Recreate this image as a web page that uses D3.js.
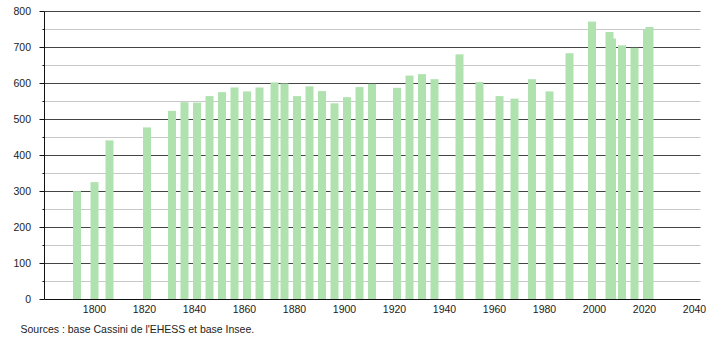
<!DOCTYPE html>
<html>
<head>
<meta charset="utf-8">
<script src="https://cdn.jsdelivr.net/npm/d3@7"></script>
<style>
  body { margin: 0; background: #fff; }
  text { font-family: "Liberation Sans", Arial, sans-serif; fill: #222; }
</style>
</head>
<body>
<div id="chart"></div>
<script>
// census years and population
const years = [1793, 1800, 1806, 1821, 1831, 1836, 1841, 1846, 1851, 1856,
  1861, 1866, 1872, 1876, 1881, 1886, 1891, 1896, 1901, 1906,
  1911, 1921, 1926, 1931, 1936, 1946, 1954, 1962, 1968, 1975,
  1982, 1990, 1999, 2006, 2007, 2011, 2016, 2021, 2022];
const population = [301, 326, 442, 478, 524, 548, 547, 565, 576, 589,
  578, 589, 603, 600, 565, 592, 579, 545, 562, 590,
  599, 588, 622, 626, 612, 681, 604, 565, 558, 612,
  578, 684, 772, 743, 725, 706, 699, 749, 757];

const xTicks = [1800, 1820, 1840, 1860, 1880, 1900, 1920, 1940, 1960, 1980, 2000, 2020, 2040];
const yTicks = [0, 100, 200, 300, 400, 500, 600, 700, 800];
const yMinorTicks = [50, 150, 250, 350, 450, 550, 650, 750];
const sourceText = "Sources : base Cassini de l'EHESS et base Insee.";

const width = 710, height = 340;
const barWidth = 8;

const svg = d3.select("#chart").append("svg")
  .attr("width", width)
  .attr("height", height);

const x = d3.scaleLinear().domain([1780, 2040]).range([44.5, 694.5]);
const y = d3.scaleLinear().domain([0, 800]).range([299.5, 11.5]);
const plotRight = 700.5;

// grid
svg.append("g").selectAll("line.minor")
  .data(yMinorTicks)
  .enter().append("line")
  .attr("x1", x.range()[0]).attr("x2", plotRight)
  .attr("y1", d => y(d)).attr("y2", d => y(d))
  .attr("stroke", "#c8c8c8");

svg.append("g").selectAll("line.major")
  .data(yTicks.filter(d => d > 0))
  .enter().append("line")
  .attr("x1", x.range()[0]).attr("x2", plotRight)
  .attr("y1", d => y(d)).attr("y2", d => y(d))
  .attr("stroke", "#444");

// bars
svg.append("g").selectAll("rect")
  .data(years)
  .enter().append("rect")
  .attr("x", d => x(d) - barWidth / 2)
  .attr("width", barWidth)
  .attr("y", (d, i) => y(population[i]))
  .attr("height", (d, i) => y(0) - y(population[i]))
  .attr("fill", "#afe2af");

// y axis
const yAxis = svg.append("g");
yAxis.append("line")
  .attr("x1", x.range()[0]).attr("x2", x.range()[0])
  .attr("y1", y(800)).attr("y2", y(0))
  .attr("stroke", "#111");
yAxis.selectAll("line.tick")
  .data(yTicks)
  .enter().append("line")
  .attr("x1", x.range()[0] - 5).attr("x2", x.range()[0])
  .attr("y1", d => y(d)).attr("y2", d => y(d))
  .attr("stroke", "#111");
yAxis.selectAll("line.minortick")
  .data(yMinorTicks)
  .enter().append("line")
  .attr("x1", x.range()[0] - 2).attr("x2", x.range()[0])
  .attr("y1", d => y(d)).attr("y2", d => y(d))
  .attr("stroke", "#111");
yAxis.selectAll("text")
  .data(yTicks)
  .enter().append("text")
  .attr("x", 31)
  .attr("y", d => y(d) + 3.8)
  .attr("text-anchor", "end")
  .attr("font-size", "10.5px")
  .text(d => d);

// x axis
svg.append("line")
  .attr("x1", x.range()[0]).attr("x2", plotRight)
  .attr("y1", y(0)).attr("y2", y(0))
  .attr("stroke", "#111");
svg.append("g").selectAll("text")
  .data(xTicks)
  .enter().append("text")
  .attr("x", d => x(d))
  .attr("y", 312.5)
  .attr("text-anchor", "middle")
  .attr("font-size", "10.5px")
  .text(d => d);

svg.append("text")
  .attr("x", 20.5)
  .attr("y", 333)
  .attr("font-size", "10.5px")
  .text(sourceText);
</script>
</body>
</html>
